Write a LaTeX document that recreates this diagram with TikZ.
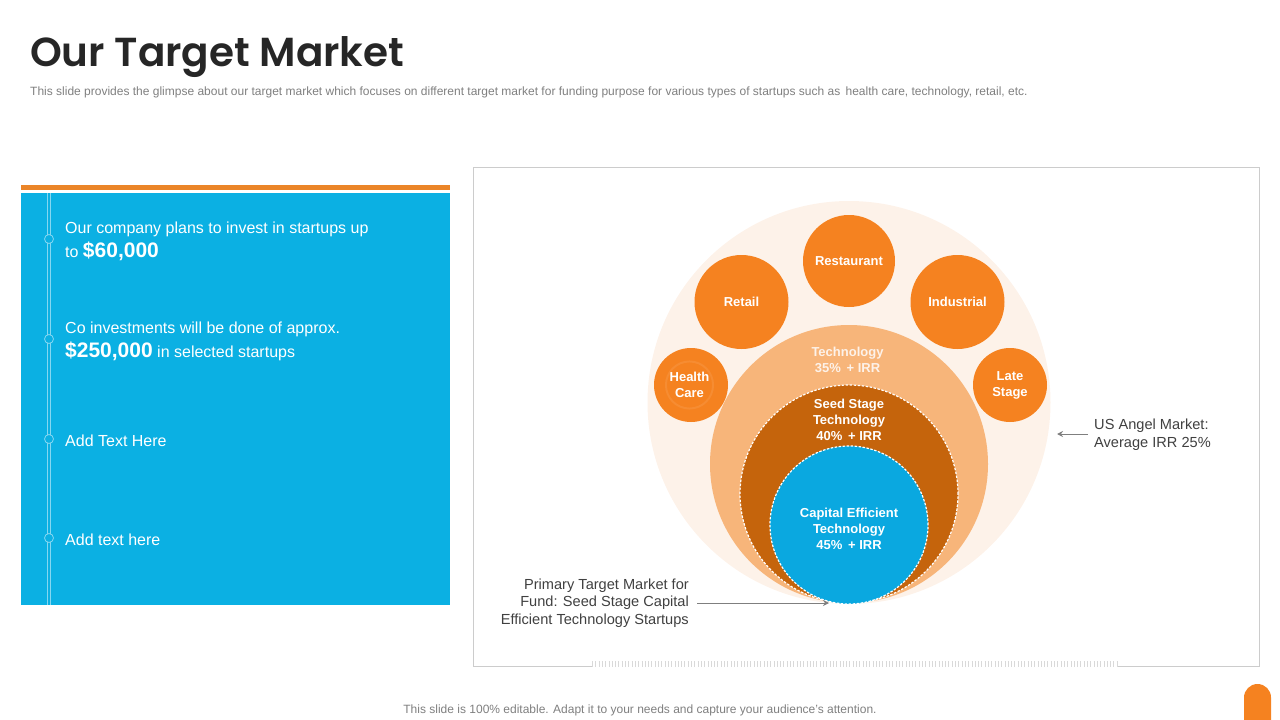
\documentclass[tikz,border=0pt]{standalone}
\usepackage{fontspec}
\setmainfont{Liberation Sans}
\newfontfamily\titlefont[BoldFont={* SemiBold}]{Poppins}
\usepackage{xcolor}
\definecolor{PanelBlue}{HTML}{0BB0E3}
\definecolor{BarOrange}{HTML}{EB8528}
\definecolor{Bubble}{HTML}{F58220}
\definecolor{Cream}{HTML}{FDF2E9}
\definecolor{TechPeach}{HTML}{F7B57A}
\definecolor{SeedBrown}{HTML}{C5640C}
\definecolor{CapBlue}{HTML}{0AA8E0}
\definecolor{BodyGrey}{HTML}{404040}
\definecolor{SmallGrey}{HTML}{7F7F7F}
\tikzset{
	bubble/.style={circle, inner sep=0pt, fill=Bubble, text=white, align=center, font=\fontsize{13}{16}\selectfont\bfseries},
	ring/.style={circle, inner sep=0pt},
	dashring/.style={ring, draw=white, dash pattern=on 2.5pt off 1.5pt, line width=1.2pt},
	ringtext/.style={text=white, align=center, font=\fontsize{13}{16}\selectfont\bfseries},
	paneltext/.style={anchor=west, text=white, align=left, font=\fontsize{16}{24}\selectfont},
	notetext/.style={text=BodyGrey, font=\fontsize{14.6}{17.5}\selectfont},
	pointer/.style={draw=SmallGrey, line width=1pt, -{Stealth[length=6pt,width=6pt]}},
	dot/.style={circle, inner sep=0pt, minimum size=9pt, draw=white!50!PanelBlue, line width=0.8pt, fill=PanelBlue}
}
\usetikzlibrary{arrows.meta}

\begin{document}
\begin{tikzpicture}[x=1pt, y=-1pt]

	\useasboundingbox (0,0) rectangle (1280,720);

	% heading
	\node[anchor=base west, inner sep=0pt, text=black!85] (title) at (30,66) {\titlefont\fontsize{40.5}{46}\selectfont\bfseries Our Target Market};
	\node[anchor=west, inner sep=0pt, text=SmallGrey] (subtitle) at (30,92) {\fontsize{12}{14}\selectfont This slide provides the glimpse about our target market which focuses on different target market for funding purpose for various types of startups such as\, health care, technology, retail, etc.};

	% left panel
	\fill[BarOrange] (21,185) rectangle (450,190);
	\fill[PanelBlue] (21,193) rectangle (450,605);
	\draw[white!50!PanelBlue, line width=0.8pt] (47,193) -- (47,605);
	\draw[white!50!PanelBlue, line width=0.8pt] (50.5,193) -- (50.5,605);

	\node[dot] (dot1) at (49,239) {};
	\node[dot] (dot2) at (49,339) {};
	\node[dot] (dot3) at (49,439) {};
	\node[dot] (dot4) at (49,538) {};

	\node[paneltext, inner sep=0pt] (plan1) at (65,241.5) {Our company plans to invest in startups up\\to {\fontsize{21}{24}\selectfont\bfseries \$60,000}};
	\node[paneltext, inner sep=0pt] (plan2) at (65,341.5) {Co investments will be done of approx.\\{\fontsize{21}{24}\selectfont\bfseries \$250,000} in selected startups};
	\node[paneltext, inner sep=0pt] (plan3) at (65,440.5) {Add Text Here};
	\node[paneltext, inner sep=0pt] (plan4) at (65,540) {Add text here};

	% frame on the right
	\draw[black!20, line width=1pt] (473.5,167.5) rectangle (1259.5,666.5);
	\fill[white] (592,658) rectangle (1118,668);
	\draw[black!15, line width=6pt, dash pattern=on 1pt off 2.3pt] (592,664) -- (1118,664);

	% circles
	\node[ring, fill=Cream, minimum size=403pt] (market) at (849,402.5) {};
	\node[ring, fill=TechPeach, minimum size=278pt] (tech) at (849,464) {};
	\node[dashring, fill=SeedBrown, minimum size=218pt] (seed) at (849,494) {};
	\node[dashring, fill=CapBlue, minimum size=158pt] (capital) at (849,525) {};

	\node[bubble, minimum size=92pt] (restaurant) at (849,261) {Restaurant};
	\node[bubble, minimum size=94pt] (retail) at (741.5,302) {Retail};
	\node[bubble, minimum size=94pt] (industrial) at (957.5,302) {Industrial};
	\node[bubble, minimum size=74pt] (health) at (691,385) {};
	\node[bubble, minimum size=40pt, draw=Bubble!92!white, line width=2pt] (healthtext) at (689.5,385) {Health\\Care};
	\node[bubble, minimum size=74pt] (late) at (1010,385) {Late\\Stage};

	\node[ringtext, text=Cream] (techlabel) at (847.5,360) {Technology\\35\%\, + IRR};
	\node[ringtext] (seedlabel) at (849,419.5) {Seed Stage\\Technology\\40\%\, + IRR};
	\node[ringtext] (caplabel) at (849,528.5) {Capital Efficient\\Technology\\45\%\, + IRR};

	% side notes
	\node[notetext, anchor=west, align=left, inner sep=0pt] (angel) at (1094,434.5) {US Angel Market:\\Average IRR 25\%};
	\node[notetext, anchor=east, align=right, inner sep=0pt] (primary) at (689,603) {Primary Target Market for\\Fund: Seed Stage Capital\\Efficient Technology Startups};

	\coordinate (angelend) at (1057,434);
	\coordinate (primaryend) at (829,603);
	\draw[pointer] ([xshift=-6pt]angel.west |- angelend) -- (angelend);
	\draw[pointer] ([xshift=8pt]primary.east) -- (primaryend);

	% footer
	\node[inner sep=0pt, text=SmallGrey] (footer) at (640,710) {\fontsize{12}{14}\selectfont This slide is 100\% editable. Adapt it to your needs and capture your audience's attention.};
	\fill[Bubble] (1244,720) -- (1244,697.5) arc[start angle=180, end angle=360, radius=13.5] -- (1271,720) -- cycle;

\end{tikzpicture}
\end{document}
